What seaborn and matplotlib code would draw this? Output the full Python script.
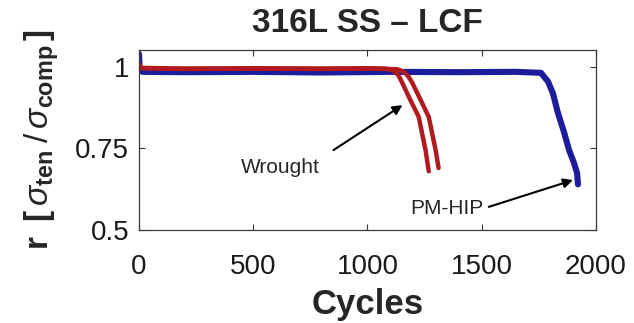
import matplotlib
matplotlib.use("Agg")
import matplotlib.pyplot as plt
import seaborn as sns
import pandas as pd

# Stress-asymmetry ratio r = sigma_ten / sigma_comp vs. cycles, 316L SS low-cycle fatigue
pmhip_cycles = [0, 3, 15, 200, 500, 800, 1100, 1400, 1650, 1759, 1790, 1811, 1833, 1860, 1882, 1904, 1917, 1921]
pmhip_r = [1.04, 1.0, 0.985, 0.984, 0.985, 0.983, 0.985, 0.984, 0.985, 0.982, 0.955, 0.92, 0.86, 0.80, 0.745, 0.705, 0.675, 0.64]

wrought_a_cycles = [0, 10, 200, 500, 800, 1000, 1080, 1110, 1135, 1153, 1190, 1224, 1254, 1268]
wrought_a_r = [1.01, 0.997, 0.995, 0.996, 0.995, 0.996, 0.995, 0.99, 0.975, 0.95, 0.895, 0.847, 0.745, 0.68]

wrought_b_cycles = [0, 10, 200, 500, 800, 1000, 1130, 1160, 1180, 1197, 1235, 1268, 1298, 1311]
wrought_b_r = [1.005, 0.996, 0.994, 0.995, 0.994, 0.995, 0.993, 0.985, 0.97, 0.95, 0.895, 0.847, 0.745, 0.69]

x_ticks = [0, 500, 1000, 1500, 2000]
y_ticks = [0.5, 0.75, 1]
y_tick_labels = ["0.5", "0.75", "1"]

BLUE = "#1c1c9c"
RED = "#b01a1f"

sns.set_theme(style="white")
plt.rcParams["font.family"] = ["Liberation Sans", "DejaVu Sans"]
plt.rcParams["mathtext.fontset"] = "custom"
plt.rcParams["mathtext.rm"] = "Liberation Sans"
plt.rcParams["mathtext.it"] = "Liberation Sans:italic"
plt.rcParams["mathtext.bf"] = "Liberation Sans:bold"

fig = plt.figure(figsize=(6.34, 3.23), dpi=100)
ax = fig.add_axes([0.2192, 0.2879, 0.7209, 0.5573])

pm = pd.DataFrame({"Cycles": pmhip_cycles, "r": pmhip_r})
wa = pd.DataFrame({"Cycles": wrought_a_cycles, "r": wrought_a_r})
wb = pd.DataFrame({"Cycles": wrought_b_cycles, "r": wrought_b_r})

sns.lineplot(data=pm, x="Cycles", y="r", ax=ax, color=BLUE, lw=4.4,
             sort=False, estimator=None, solid_joinstyle="round")
sns.lineplot(data=wa, x="Cycles", y="r", ax=ax, color=RED, lw=3.2,
             sort=False, estimator=None, solid_joinstyle="round")
sns.lineplot(data=wb, x="Cycles", y="r", ax=ax, color=RED, lw=3.2,
             sort=False, estimator=None, solid_joinstyle="round")

ax.set_xlim(0, 2000)
ax.set_ylim(0.5, 1.052)
ax.set_xticks(x_ticks)
ax.set_xticklabels([str(v) for v in x_ticks])
ax.set_yticks(y_ticks)
ax.set_yticklabels(y_tick_labels)
ax.tick_params(direction="in", length=4, width=0.8, colors="#333333",
               labelcolor="#1a1a1a", labelsize=20, top=True, right=True,
               bottom=True, left=True)
ax.tick_params(axis="x", pad=17)
ax.tick_params(axis="y", pad=7)

for s in ax.spines.values():
    s.set_color("#3a3a3a")
    s.set_linewidth(0.9)

ax.set_title("316L SS \u2013 LCF", fontsize=24, fontweight="bold", pad=13)
ax.set_xlabel("Cycles", fontsize=25, fontweight="bold", labelpad=6)
ax.set_ylabel(r"$\mathbf{r}\;\;\mathbf{[}\,\sigma_{\mathbf{ten}}\;/\,\sigma_{\mathbf{comp}}\,\mathbf{]}$",
              fontsize=24, labelpad=10)

arrow = dict(arrowstyle="-|>", color="black", lw=1.5, mutation_scale=14,
             shrinkA=0, shrinkB=0)
ax.text(618, 0.693, "Wrought", fontsize=15, ha="center", va="center")
ax.annotate("", xy=(1153, 0.883), xytext=(851, 0.745), arrowprops=arrow)
ax.text(1346, 0.567, "PM-HIP", fontsize=15, ha="center", va="center")
ax.annotate("", xy=(1899, 0.653), xytext=(1531, 0.571), arrowprops=arrow)

fig.savefig("out.png", dpi=100)
